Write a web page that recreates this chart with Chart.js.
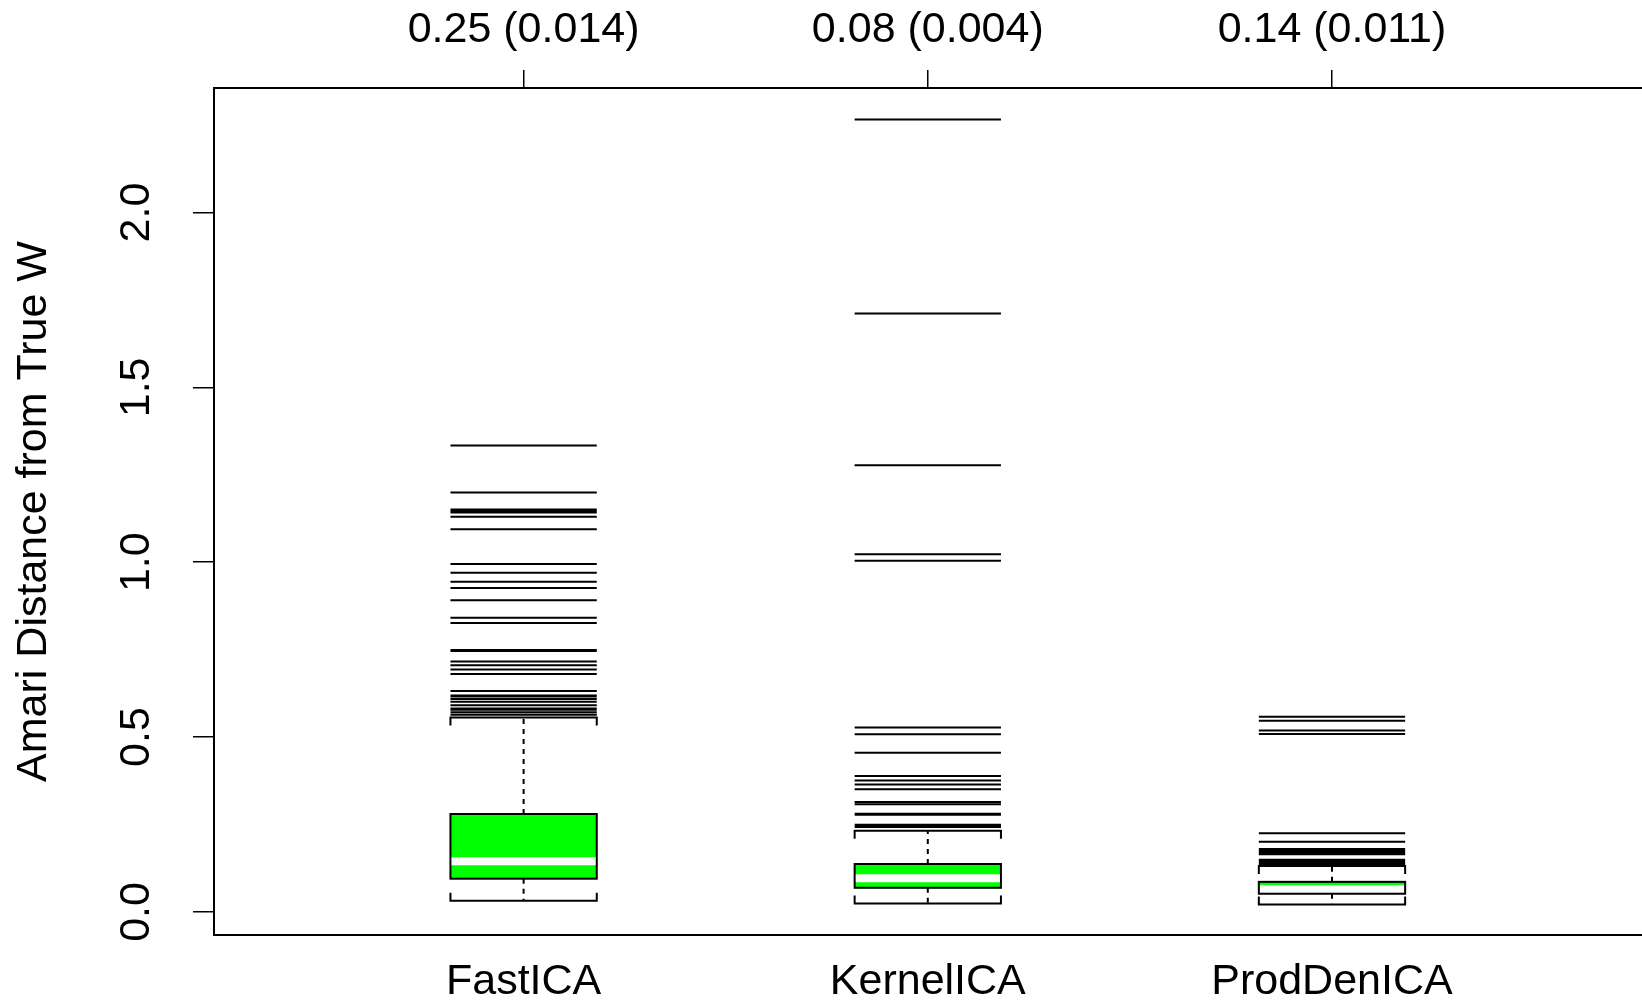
<!DOCTYPE html>
<html>
<head>
<meta charset="utf-8">
<title>Amari distance by method</title>
<script src="https://cdn.jsdelivr.net/npm/chart.js@4.4.1/dist/chart.umd.min.js"></script>
<style>
  html, body { margin: 0; padding: 0; background: #fff; overflow: hidden; }
  #wrap { position: relative; width: 1642px; height: 1000px; }
</style>
</head>
<body>
<div id="wrap"><canvas id="amariChart"></canvas></div>
<script>
// --- data ---
const methods = ['FastICA', 'KernelICA', 'ProdDenICA'];
const meanLabels = ['0.25 (0.014)', '0.08 (0.004)', '0.14 (0.011)'];
const yTicks = [0, 0.5, 1.0, 1.5, 2.0];

const whiskerLo = [0.032, 0.024, 0.021];
const lowerQ = [0.095, 0.069, 0.052];
const medians = [0.145, 0.096, 0.065];
const upperQ = [0.280, 0.137, 0.086];
const whiskerHi = [0.556, 0.232, 0.131];

const outFastICA = [1.334, 1.199, 1.151, 1.147, 1.142, 1.130, 1.094, 0.995, 0.970, 0.944, 0.926, 0.891,
  0.841, 0.826, 0.749, 0.746, 0.716, 0.705, 0.693, 0.680, 0.632, 0.619, 0.616, 0.609, 0.601, 0.591,
  0.582, 0.578, 0.571, 0.564];
const outKernelICA = [2.266, 1.711, 1.277, 1.023, 1.004, 0.527, 0.508, 0.455, 0.389, 0.376, 0.364,
  0.351, 0.314, 0.308, 0.281, 0.278, 0.249, 0.246, 0.243];
const outProdDenICA = [0.558, 0.547, 0.519, 0.509, 0.225, 0.201, 0.180, 0.176, 0.172, 0.168, 0.165,
  0.149, 0.145, 0.141, 0.137];
const outliers = [outFastICA, outKernelICA, outProdDenICA];

// --- look ---
const FONT = { family: '"Liberation Sans", Arial, Helvetica, sans-serif', size: 43 };
const boxHalf = 0.181;      // half box width, in x units
const stapleLeg = 8;        // px
const boxGreen = '#00ff00';

// each outlier is a short horizontal segment as wide as the box
const outlierData = (vals, c) => vals.flatMap(v => [
  { x: c - boxHalf, y: v }, { x: c + boxHalf, y: v }, { x: c, y: null }
]);

const boxPlugin = {
  id: 'boxes',
  afterDatasetsDraw(chart) {
    const { ctx, scales: { x, y } } = chart;
    ctx.save();
    methods.forEach((m, i) => {
      const c = i + 1;
      const xl = x.getPixelForValue(c - boxHalf);
      const xr = x.getPixelForValue(c + boxHalf);
      const xc = x.getPixelForValue(c);
      const yHi = y.getPixelForValue(whiskerHi[i]);
      const yLo = y.getPixelForValue(whiskerLo[i]);
      const yQ3 = y.getPixelForValue(upperQ[i]);
      const yQ1 = y.getPixelForValue(lowerQ[i]);
      const yMed = y.getPixelForValue(medians[i]);

      ctx.strokeStyle = '#000';
      ctx.lineWidth = 2;
      // whiskers
      ctx.setLineDash([5, 5]);
      ctx.beginPath();
      ctx.moveTo(xc, yQ3); ctx.lineTo(xc, yHi);
      ctx.moveTo(xc, yQ1); ctx.lineTo(xc, yLo);
      ctx.stroke();
      ctx.setLineDash([]);
      // staples
      ctx.beginPath();
      ctx.moveTo(xl, yHi + stapleLeg); ctx.lineTo(xl, yHi); ctx.lineTo(xr, yHi); ctx.lineTo(xr, yHi + stapleLeg);
      ctx.moveTo(xl, yLo - stapleLeg); ctx.lineTo(xl, yLo); ctx.lineTo(xr, yLo); ctx.lineTo(xr, yLo - stapleLeg);
      ctx.stroke();
      // box + median
      ctx.fillStyle = boxGreen;
      ctx.fillRect(xl, yQ3, xr - xl, yQ1 - yQ3);
      ctx.strokeStyle = '#fff';
      ctx.lineWidth = 8;
      ctx.beginPath();
      ctx.moveTo(xl, yMed); ctx.lineTo(xr, yMed);
      ctx.stroke();
      ctx.strokeStyle = '#000';
      ctx.lineWidth = 2;
      ctx.strokeRect(xl, yQ3, xr - xl, yQ1 - yQ3);
    });
    ctx.restore();
  },
  // y tick labels run along the axis
  afterDraw(chart) {
    const { ctx, scales: { y } } = chart;
    ctx.save();
    ctx.fillStyle = '#000';
    ctx.font = `${FONT.size}px ${FONT.family}`;
    ctx.textAlign = 'center';
    ctx.textBaseline = 'middle';
    y.ticks.forEach(t => {
      ctx.save();
      ctx.translate(y.right - 77, y.getPixelForValue(t.value));
      ctx.rotate(-Math.PI / 2);
      ctx.fillText(t.value.toFixed(1), 0, 0);
      ctx.restore();
    });
    ctx.restore();
  }
};

const xMin = 0.234, xMax = 3.767;
const atMethods = s => { s.ticks = methods.map((m, i) => ({ value: i + 1 })); };

new Chart(document.getElementById('amariChart'), {
  type: 'scatter',
  data: {
    datasets: outliers.map((vals, i) => ({
      label: methods[i],
      data: outlierData(vals, i + 1),
      showLine: true,
      spanGaps: false,
      borderColor: '#000',
      borderWidth: 2,
      pointRadius: 0,
      pointHoverRadius: 0
    }))
  },
  options: {
    responsive: true,
    maintainAspectRatio: false,
    animation: false,
    layout: { padding: 0 },
    plugins: { legend: { display: false }, tooltip: { enabled: false } },
    scales: {
      x: {
        type: 'linear', position: 'bottom', min: xMin, max: xMax,
        afterBuildTicks: atMethods,
        afterFit: s => { s.height = 65; },
        ticks: { callback: v => methods[v - 1], font: FONT, color: '#000', padding: 13, maxRotation: 0, autoSkip: false },
        grid: { display: false },
        border: { display: true, color: '#000', width: 2 }
      },
      x2: {
        type: 'linear', position: 'top', min: xMin, max: xMax,
        afterBuildTicks: atMethods,
        afterFit: s => { s.height = 88; },
        ticks: { callback: v => meanLabels[v - 1], font: FONT, color: '#000', padding: 14, maxRotation: 0, autoSkip: false },
        grid: { drawOnChartArea: false, drawTicks: true, tickLength: 18, color: '#000', lineWidth: 1.5 },
        border: { display: true, color: '#000', width: 2 }
      },
      y: {
        type: 'linear', min: -0.066, max: 2.356,
        afterBuildTicks: s => { s.ticks = yTicks.map(v => ({ value: v })); },
        afterFit: s => { s.width = 214; },
        ticks: { display: false },
        grid: { drawOnChartArea: false, drawTicks: true, tickLength: 21, color: '#000', lineWidth: 1.5 },
        border: { display: true, color: '#000', width: 2 },
        title: {
          display: true, text: 'Amari Distance from True W', color: '#000',
          font: { ...FONT, lineHeight: 1 }, padding: { top: 13, bottom: 0 }
        }
      }
    }
  },
  plugins: [boxPlugin]
});
</script>
</body>
</html>
